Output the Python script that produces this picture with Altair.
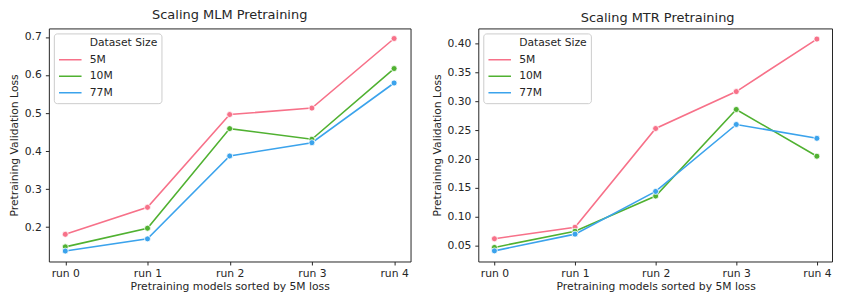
import altair as alt
import pandas as pd

# ---- data ----
runs = ["run 0", "run 1", "run 2", "run 3", "run 4"]
sizes = ["5M", "10M", "77M"]

mlm_5m = [0.181, 0.252, 0.496, 0.513, 0.696]
mlm_10m = [0.148, 0.197, 0.459, 0.431, 0.617]
mlm_77m = [0.137, 0.169, 0.387, 0.422, 0.579]

mtr_5m = [0.062, 0.082, 0.253, 0.317, 0.408]
mtr_10m = [0.047, 0.075, 0.136, 0.286, 0.205]
mtr_77m = [0.041, 0.070, 0.144, 0.260, 0.236]

mlm_ticks = [0.2, 0.3, 0.4, 0.5, 0.6, 0.7]
mtr_ticks = [0.05, 0.10, 0.15, 0.20, 0.25, 0.30, 0.35, 0.40]

legend_entries = ["Dataset Size"] + sizes
palette = ["rgba(0,0,0,0)", "#f77189", "#50b131", "#3ba3ec"]

FONT = "DejaVu Sans"
TXT = "#262626"
FS = 10.8


def long_table(series):
    rows = []
    for size, vals in zip(sizes, series):
        for r, v in zip(runs, vals):
            rows.append({"run": r, "size": size, "loss": v})
    return pd.DataFrame(rows)


def panel(df, title, ydomain, yticks, yfmt, width, height, xrange=None):
    xs = dict(type="point", domain=runs, padding=0.2)
    if xrange is not None:
        xs["range"] = xrange
    x = alt.X(
        "run:N",
        scale=alt.Scale(**xs),
        axis=alt.Axis(
            labelAngle=0, tickSize=3.5, tickColor=TXT, tickWidth=1,
            labelPadding=2.5, labelFont=FONT, labelFontSize=FS, labelColor=TXT,
            title="Pretraining models sorted by 5M loss", titleFont=FONT,
            titleFontSize=FS, titleColor=TXT, titleFontWeight="normal",
            titlePadding=2, domain=False, grid=False,
        ),
    )
    y = alt.Y(
        "loss:Q",
        scale=alt.Scale(domain=ydomain, nice=False, zero=False),
        axis=alt.Axis(
            values=yticks, format=yfmt, tickSize=3.5, tickColor=TXT, tickWidth=1,
            labelPadding=4, labelFont=FONT, labelFontSize=FS, labelColor=TXT,
            title="Pretraining Validation Loss", titleFont=FONT, titleFontSize=FS,
            titleColor=TXT, titleFontWeight="normal", titlePadding=4.3,
            domain=False, grid=False,
        ),
    )
    cscale = alt.Scale(domain=legend_entries, range=palette)
    legend = alt.Legend(
        title=None, orient="none", legendX=5, legendY=5,
        symbolType="stroke", symbolSize=511, symbolStrokeWidth=1.6,
        clipHeight=12, rowPadding=4.5, padding=4, labelOffset=7,
        labelFont=FONT, labelFontSize=FS, labelColor=TXT,
        fillColor="white", strokeColor="#cccccc", cornerRadius=3,
    )
    lines = alt.Chart(df).mark_line(strokeWidth=1.6).encode(
        x=x, y=y, color=alt.Color("size:N", scale=cscale, legend=legend)
    )
    pts = alt.Chart(df).mark_point(
        filled=True, size=36, stroke="white", strokeWidth=0.8, opacity=1
    ).encode(
        x=x, y=y, color=alt.Color("size:N", scale=cscale, legend=None)
    )
    return alt.layer(lines, pts).properties(width=width, height=height, title=title)


left = panel(
    long_table([mlm_5m, mlm_10m, mlm_77m]),
    alt.TitleParams(text="Scaling MLM Pretraining", font=FONT, fontSize=13,
                    fontWeight="normal", color=TXT, offset=6, anchor="middle"),
    [0.1095, 0.7225], mlm_ticks, ".1f", 363, 233.9,
)
right = panel(
    long_table([mtr_5m, mtr_10m, mtr_77m]),
    alt.TitleParams(text="Scaling MTR Pretraining",
                    font=FONT, fontSize=13, fontWeight="normal", color=TXT,
                    offset=6, anchor="middle", dx=2.5, dy=3),
    [0.0226, 0.4264], mtr_ticks, ".2f", 355, 233.9, xrange=[0, 356],
)

chart = (
    alt.hconcat(left, right, spacing=19)
    .resolve_scale(color="independent", y="independent", x="independent")
    .resolve_legend(color="independent")
    .properties(padding={"left": 0, "top": 0, "right": 0, "bottom": 0})
    .configure_view(stroke=TXT, strokeWidth=1)
)

chart.save("out.html", embed_options={"renderer": "svg", "actions": False})
